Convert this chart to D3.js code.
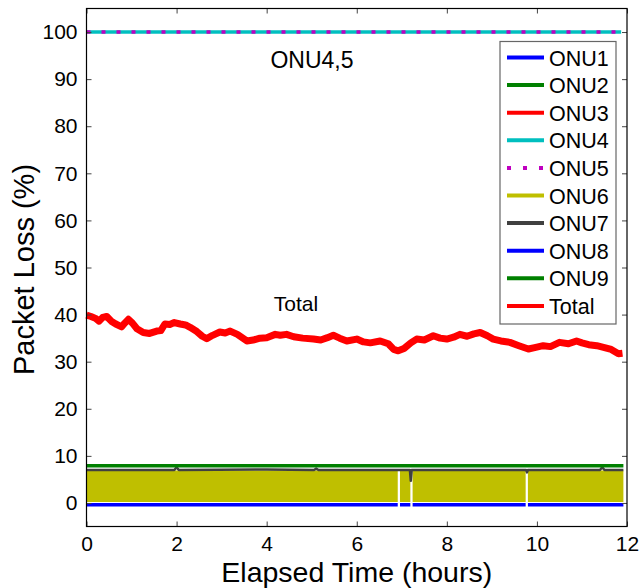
<!DOCTYPE html>
<html>
<head>
<meta charset="utf-8">
<script src="https://cdn.jsdelivr.net/npm/d3@7"></script>
<style>
  body { margin: 0; background: #fff; }
  svg { font-family: 'Liberation Sans', Arial, sans-serif; }
</style>
</head>
<body>
<div class="container"></div>
<script>
// series names and colours (legend order)
const names = ['ONU1', 'ONU2', 'ONU3', 'ONU4', 'ONU5', 'ONU6', 'ONU7', 'ONU8', 'ONU9', 'Total']
const colors = ['#0000ff', '#008000', '#ff0000', '#00bfbf', '#bf00bf', '#bfbf00', '#404040', '#0000ff', '#008000', '#ff0000']

const xTicks = [0, 2, 4, 6, 8, 10, 12]
const yTicks = [0, 10, 20, 30, 40, 50, 60, 70, 80, 90, 100]

// ONU4 / ONU5: flat 100 %
const onu45Time = [0, 11.87]
const onu45Vals = [100, 100]

// Total packet loss
const totalTime = [0, 0.1, 0.2, 0.28, 0.36, 0.45, 0.55, 0.65, 0.78, 0.85, 0.93, 1.02, 1.12, 1.26, 1.4, 1.56, 1.65, 1.74, 1.85, 1.95, 2.08, 2.2, 2.3, 2.45, 2.57, 2.67, 2.8, 2.96, 3.08, 3.19, 3.35, 3.56, 3.7, 3.85, 4.0, 4.19, 4.3, 4.44, 4.6, 4.8, 5.04, 5.2, 5.35, 5.48, 5.62, 5.78, 6.0, 6.15, 6.3, 6.52, 6.7, 6.82, 6.92, 7.05, 7.2, 7.33, 7.5, 7.7, 7.85, 8.0, 8.15, 8.29, 8.45, 8.6, 8.74, 8.9, 9.03, 9.2, 9.4, 9.6, 9.81, 9.95, 10.14, 10.3, 10.5, 10.7, 10.88, 11.0, 11.15, 11.33, 11.5, 11.65, 11.81, 11.9]
const totalVals = [39.9, 39.6, 39.2, 38.6, 39.4, 39.6, 38.6, 38.0, 37.4, 38.2, 39.0, 38.2, 37.0, 36.2, 36.0, 36.5, 36.6, 38.0, 37.9, 38.3, 38.0, 37.8, 37.3, 36.4, 35.4, 34.9, 35.6, 36.3, 36.1, 36.5, 35.8, 34.4, 34.6, 35.0, 35.1, 35.8, 35.6, 35.8, 35.3, 35.0, 34.8, 34.6, 35.1, 35.6, 35.0, 34.4, 34.8, 34.2, 34.0, 34.4, 33.8, 32.6, 32.3, 32.8, 34.0, 34.8, 34.6, 35.5, 35.0, 34.8, 35.2, 35.8, 35.4, 35.9, 36.2, 35.5, 34.8, 34.4, 34.1, 33.4, 32.7, 33.0, 33.4, 33.2, 34.1, 33.8, 34.4, 34.0, 33.6, 33.4, 33.0, 32.6, 31.7, 31.8]

// ONU6: dense oscillation drawn as its envelope (null = no data)
const onu6Time = [0, 6.91, 6.92, 6.95, 6.96, 7.19, 7.2, 7.23, 7.24, 9.75, 9.76, 9.79, 9.8, 11.92]
const onu6Low = [0.2, 0.2, null, null, 0.2, 0.2, null, null, 0.2, 0.2, null, null, 0.2, 0.2]
const onu6High = [6.9, 6.9, null, null, 6.9, 6.9, null, null, 6.9, 6.9, null, null, 6.9, 6.9]

// ONU7
const onu7Time = [0, 1.95, 2.0, 2.05, 4.0, 5.05, 5.1, 5.15, 7.18, 7.2, 7.22, 9.76, 9.78, 9.8, 11.4, 11.45, 11.5, 11.92]
const onu7Vals = [7.0, 7.0, 7.6, 7.0, 7.1, 7.0, 7.3, 7.0, 7.0, 4.7, 7.0, 7.0, 6.5, 7.0, 7.0, 7.6, 7.0, 7.0]

// ONU1 / ONU8 (bottom) and ONU2 / ONU9 (top of the band)
const onu18Time = [0, 6.91, 6.92, 6.95, 6.96, 7.19, 7.2, 7.23, 7.24, 9.75, 9.76, 9.79, 9.8, 11.92]
const onu18Vals = [-0.4, -0.4, null, null, -0.4, -0.4, null, null, -0.4, -0.4, null, null, -0.4, -0.4]
const onu29Time = [0, 11.92]
const onu29Vals = [7.9, 7.9]

const w = 640
const h = 588
const margin = { left: 86.5, right: 13, top: 8.5, bottom: 61.5 }

const svg = d3.select('.container')
  .append('svg')
  .attr('width', w)
  .attr('height', h)

const xScale = d3.scaleLinear()
  .domain([0, 12])
  .range([margin.left, w - margin.right])

const yScale = d3.scaleLinear()
  .domain([-5, 105])
  .range([h - margin.bottom, margin.top])

const line = d3.line()
  .defined(d => d[1] != null)
  .x(d => xScale(d[0]))
  .y(d => yScale(d[1]))

const zip = (a, b) => a.map((t, i) => [t, b[i]])

// ONU6 band
svg.append('path')
  .datum(onu6Time.map((t, i) => [t, onu6Low[i], onu6High[i]]))
  .attr('fill', colors[5])
  .attr('d', d3.area()
    .defined(d => d[2] != null)
    .x(d => xScale(d[0]))
    .y0(d => yScale(d[1]))
    .y1(d => yScale(d[2])))

const drawLine = (time, vals, color, width, dash) => {
  svg.append('path')
    .datum(zip(time, vals))
    .attr('fill', 'none')
    .attr('stroke', color)
    .attr('stroke-width', width)
    .attr('stroke-dasharray', dash || null)
    .attr('stroke-linejoin', 'round')
    .attr('d', line)
}

drawLine(onu7Time, onu7Vals, colors[6], 2.5)
drawLine(onu18Time, onu18Vals, colors[7], 3.5)
drawLine(onu29Time, onu29Vals, colors[8], 3.5)
drawLine(onu45Time, onu45Vals, colors[3], 3.5)
drawLine(onu45Time, onu45Vals, colors[4], 3.5, '4,11')
drawLine(totalTime, totalVals, colors[9], 7)

// axes box and inward ticks
const x0 = margin.left, x1 = w - margin.right
const y0 = margin.top, y1 = h - margin.bottom

svg.append('g')
  .attr('transform', `translate(0, ${y1})`)
  .call(d3.axisBottom(xScale).tickValues(xTicks).tickSizeInner(-5).tickSizeOuter(0).tickPadding(9.5))
svg.append('g')
  .attr('transform', `translate(0, ${y0})`)
  .call(d3.axisTop(xScale).tickValues(xTicks).tickSizeInner(-5).tickSizeOuter(0).tickFormat(''))
svg.append('g')
  .attr('transform', `translate(${x0}, 0)`)
  .call(d3.axisLeft(yScale).tickValues(yTicks).tickSizeInner(-5).tickSizeOuter(0).tickPadding(9))
svg.append('g')
  .attr('transform', `translate(${x1}, 0)`)
  .call(d3.axisRight(yScale).tickValues(yTicks).tickSizeInner(-5).tickSizeOuter(0).tickFormat(''))

svg.selectAll('.domain').remove()
svg.selectAll('.tick line').attr('stroke', '#444')
svg.selectAll('.tick text')
  .attr('font-size', 21)
  .attr('font-family', 'Liberation Sans, Arial, sans-serif')
  .attr('fill', '#000')

svg.append('rect')
  .attr('x', x0)
  .attr('y', y0)
  .attr('width', x1 - x0)
  .attr('height', y1 - y0)
  .attr('fill', 'none')
  .attr('stroke', '#000')
  .attr('stroke-width', 1.2)

// axis titles
svg.append('text')
  .text('Elapsed Time (hours)')
  .attr('x', (x0 + x1) / 2)
  .attr('y', 581.5)
  .attr('text-anchor', 'middle')
  .attr('font-size', 28.5)

svg.append('text')
  .text('Packet Loss (%)')
  .attr('transform', `translate(34, ${(y0 + y1) / 2 + 2}) rotate(-90)`)
  .attr('text-anchor', 'middle')
  .attr('font-size', 29)

// annotations
svg.append('text')
  .text('ONU4,5')
  .attr('x', 312)
  .attr('y', 68)
  .attr('text-anchor', 'middle')
  .attr('font-size', 23)

svg.append('text')
  .text('Total')
  .attr('x', 296)
  .attr('y', 311)
  .attr('text-anchor', 'middle')
  .attr('font-size', 21)

// legend
const legend = svg.append('g')
legend.append('rect')
  .attr('x', 500)
  .attr('y', 41.5)
  .attr('width', 116)
  .attr('height', 282.5)
  .attr('fill', '#fff')
  .attr('stroke', '#666')
  .attr('stroke-width', 1.2)

names.forEach((name, i) => {
  const y = 57.5 + i * 27.6
  legend.append('line')
    .attr('x1', 507)
    .attr('x2', 544)
    .attr('y1', y)
    .attr('y2', y)
    .attr('stroke', colors[i])
    .attr('stroke-width', 4)
    .attr('stroke-dasharray', name === 'ONU5' ? '4,12' : null)
  legend.append('text')
    .text(name)
    .attr('x', 549)
    .attr('y', y + 8)
    .attr('font-size', 21.5)
})
</script>
</body>
</html>
